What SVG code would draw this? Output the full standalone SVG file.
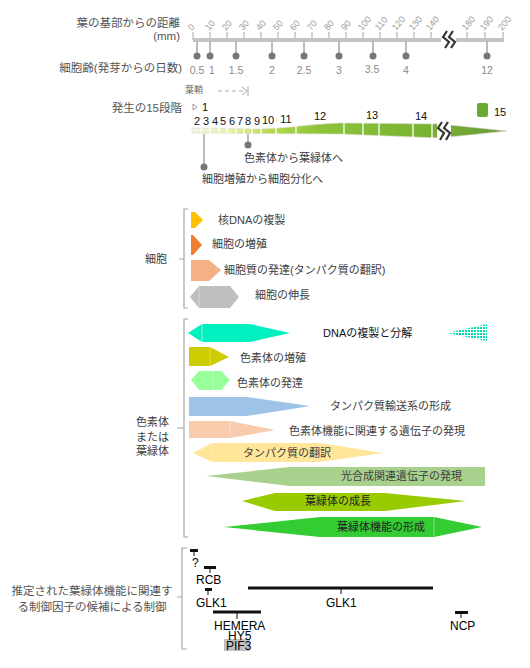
<svg xmlns="http://www.w3.org/2000/svg" width="530" height="668" viewBox="0 0 530 668">
<style>
text{font-family:"Liberation Sans","Noto Sans CJK JP",sans-serif}
.jp{font-size:11px;fill:#404040}
.jt{font-size:11.5px;fill:#555}
.tk{font-size:9px;fill:#9a9a9a}
.dl{font-size:10.5px;fill:#8a8a8a;text-anchor:middle}
.sn{font-size:11px;fill:#111}
.gn{font-size:12px;fill:#000}
.br{fill:none;stroke:#a6a6a6;stroke-width:1.2}
.tb{stroke:#111;stroke-width:3}
.st{stroke:#111;stroke-width:1}
.dd{fill:#777}
.dv{stroke:#bdbdbd;stroke-width:2}
.sep{stroke:#fff;stroke-width:1.3}
.zz{fill:none;stroke:#333;stroke-width:2.2}
</style>
<defs>
<linearGradient id="bar" gradientUnits="userSpaceOnUse" x1="192" y1="0" x2="507" y2="0">
<stop offset="0" stop-color="#f3f3e8"/>
<stop offset="0.12" stop-color="#eaf2a8"/>
<stop offset="0.25" stop-color="#b6da4c"/>
<stop offset="0.4" stop-color="#8ec43a"/>
<stop offset="0.75" stop-color="#79b232"/>
<stop offset="1" stop-color="#6a9a3c"/>
</linearGradient>
<pattern id="dots" patternUnits="userSpaceOnUse" width="3" height="3">
<rect x="0" y="0" width="2" height="2" fill="#00dcb0"/>
</pattern>
</defs>

<!-- titles -->
<g id="axis-title">
<text class="jt" x="180" y="27" text-anchor="end">葉の基部からの距離</text>
<text class="jt" x="180" y="40" text-anchor="end">(mm)</text>
<text class="jt" x="182" y="72" text-anchor="end">細胞齢(発芽からの日数)</text>
</g>

<!-- ruler -->
<g id="ruler">
<line x1="193" y1="40" x2="504" y2="40" stroke="#c4c4c4" stroke-width="4"/>
<g stroke="#c4c4c4" stroke-width="1.5">
<line x1="193" y1="32" x2="193" y2="40"/><line x1="210" y1="32" x2="210" y2="40"/><line x1="227" y1="32" x2="227" y2="40"/><line x1="244" y1="32" x2="244" y2="40"/><line x1="261" y1="32" x2="261" y2="40"/><line x1="278" y1="32" x2="278" y2="40"/><line x1="295" y1="32" x2="295" y2="40"/><line x1="312" y1="32" x2="312" y2="40"/><line x1="329" y1="32" x2="329" y2="40"/><line x1="346" y1="32" x2="346" y2="40"/><line x1="363" y1="32" x2="363" y2="40"/><line x1="380" y1="32" x2="380" y2="40"/><line x1="397" y1="32" x2="397" y2="40"/><line x1="414" y1="32" x2="414" y2="40"/><line x1="431" y1="32" x2="431" y2="40"/><line x1="467" y1="32" x2="467" y2="40"/><line x1="485" y1="32" x2="485" y2="40"/><line x1="503" y1="32" x2="503" y2="40"/>
</g>
<g class="tk">
<text transform="translate(192,31) rotate(-50)">0</text>
<text transform="translate(209,31) rotate(-50)">10</text>
<text transform="translate(226,31) rotate(-50)">20</text>
<text transform="translate(243,31) rotate(-50)">30</text>
<text transform="translate(260,31) rotate(-50)">40</text>
<text transform="translate(277,31) rotate(-50)">50</text>
<text transform="translate(294,31) rotate(-50)">60</text>
<text transform="translate(311,31) rotate(-50)">70</text>
<text transform="translate(328,31) rotate(-50)">80</text>
<text transform="translate(345,31) rotate(-50)">90</text>
<text transform="translate(362,31) rotate(-50)">100</text>
<text transform="translate(379,31) rotate(-50)">110</text>
<text transform="translate(396,31) rotate(-50)">120</text>
<text transform="translate(413,31) rotate(-50)">130</text>
<text transform="translate(430,31) rotate(-50)">140</text>
<text transform="translate(466,31) rotate(-50)">180</text>
<text transform="translate(484,31) rotate(-50)">190</text>
<text transform="translate(502,31) rotate(-50)">200</text>
</g>
<rect x="441" y="36" width="15" height="8" fill="#fff"/>
<path class="zz" d="M447,31 L443,37 L449,42 L445,48"/>
<path class="zz" d="M453,31 L449,37 L455,42 L451,48"/>
</g>

<!-- cell age -->
<g id="cell-age">
<g class="dv" stroke-width="1.5">
<line x1="197" y1="40" x2="197" y2="56"/><line x1="210" y1="40" x2="210" y2="56"/><line x1="236" y1="40" x2="236" y2="56"/><line x1="272" y1="40" x2="272" y2="56"/><line x1="304" y1="40" x2="304" y2="56"/><line x1="339" y1="40" x2="339" y2="56"/><line x1="373" y1="40" x2="373" y2="56"/><line x1="406" y1="40" x2="406" y2="56"/><line x1="487" y1="40" x2="487" y2="56"/>
</g>
<g class="dd">
<circle cx="197" cy="56" r="3.5"/><circle cx="210" cy="56" r="3.5"/><circle cx="236" cy="56" r="3.5"/><circle cx="272" cy="56" r="3.5"/><circle cx="304" cy="56" r="3.5"/><circle cx="339" cy="56" r="3.5"/><circle cx="373" cy="56" r="3.5"/><circle cx="406" cy="56" r="3.5"/><circle cx="487" cy="56" r="3.5"/>
</g>
<text class="dl" x="197" y="74">0.5</text><text class="dl" x="212" y="74">1</text><text class="dl" x="236" y="74">1.5</text><text class="dl" x="272" y="74">2</text><text class="dl" x="304" y="74">2.5</text><text class="dl" x="339" y="74">3</text><text class="dl" x="372" y="73">3.5</text><text class="dl" x="406" y="74">4</text><text class="dl" x="487" y="74">12</text>
</g>

<!-- stages -->
<g id="sheath">
<text x="185" y="93" style="font-size:9px;fill:#666">葉鞘</text>
<line x1="218" y1="91" x2="246" y2="91" stroke="#aaa" stroke-width="1" stroke-dasharray="4,3"/>
<path d="M242,87 L247,91 L242,95 M248,86 L248,96" fill="none" stroke="#aaa" stroke-width="1"/>
</g>
<g id="stages">
<text class="jt" x="182" y="112" text-anchor="end">発生の15段階</text>
<path d="M193,104 L197,107 L193,110 Z" fill="none" stroke="#888" stroke-width="0.8"/>
<text class="sn" x="202" y="111">1</text>
<g class="sn" text-anchor="middle">
<text x="197" y="125">2</text><text x="206" y="125">3</text><text x="215" y="125">4</text><text x="223" y="125">5</text><text x="232" y="125">6</text><text x="240" y="125">7</text><text x="248" y="125">8</text><text x="257" y="125">9</text><text x="268" y="124">10</text><text x="286" y="123">11</text><text x="320" y="120">12</text><text x="372" y="119">13</text><text x="421" y="120">14</text>
</g>
<path d="M192,128 L262,129 C290,128 312,124 340,123 L440,124 L507,131 L440,138 L340,134 L192,133 Z" fill="url(#bar)" stroke="#d6d6cc" stroke-width="0.6"/>
<g class="sep">
<line x1="201" y1="126" x2="201" y2="135"/><line x1="210" y1="126" x2="210" y2="135"/><line x1="219" y1="126" x2="219" y2="135"/><line x1="227" y1="126" x2="227" y2="135"/><line x1="236" y1="126" x2="236" y2="135"/><line x1="244" y1="126" x2="244" y2="135"/><line x1="252" y1="126" x2="252" y2="135"/><line x1="261" y1="126" x2="261" y2="135"/><line x1="276" y1="125" x2="276" y2="135"/><line x1="296" y1="124" x2="296" y2="135"/><line x1="344" y1="121" x2="344" y2="136"/><line x1="363" y1="121" x2="363" y2="136"/><line x1="379" y1="121" x2="379" y2="137"/><line x1="413" y1="122" x2="413" y2="138"/><line x1="432" y1="122" x2="432" y2="139"/>
</g>
<rect x="437" y="120" width="14" height="22" fill="#fff"/>
<path class="zz" d="M442,122 L438,128 L444,133 L440,140"/>
<path class="zz" d="M448,122 L444,128 L450,133 L446,140"/>
<rect x="477" y="103" width="11" height="14" rx="2" fill="#6aaa30"/>
<text class="sn" x="494" y="116">15</text>
</g>
<g id="stage-notes">
<text class="jp" x="244" y="162">色素体から葉緑体へ</text>
<text class="jp" x="202" y="183">細胞増殖から細胞分化へ</text>
</g>

<!-- cell section -->
<g id="cell-label"><text class="jp" x="145" y="263">細胞</text></g>
<g id="cell-dna">
<polygon points="191,212 195,212 203,220 195,228 191,228" fill="#ffc000"/>
<text class="jp" x="218" y="224">核DNAの複製</text>
</g>
<g id="cell-prolif">
<polygon points="191,235 193,235 202,245 193,255 191,255" fill="#ed7d31"/>
<text class="jp" x="212" y="248">細胞の増殖</text>
</g>
<g id="cell-cyto">
<polygon points="191,260 209,260 221,270 209,281 191,281" fill="#f4b183"/>
<text class="jp" x="224" y="274">細胞質の発達(タンパク質の翻訳)</text>
</g>
<g id="cell-elong">
<polygon points="190,297 199,286 230,286 239,297 230,308 199,308" fill="#bfbfbf"/>
<line x1="199" y1="286" x2="199" y2="308" stroke="#e0e0e0" stroke-width="0.8"/>
<text class="jp" x="255" y="299">細胞の伸長</text>
</g>

<!-- chloroplast section -->
<g id="plastid-label" class="jp">
<text x="136" y="426">色素体</text>
<text x="136" y="441">または</text>
<text x="136" y="455">葉緑体</text>
</g>
<g id="p-dna">
<polygon points="188,333 202,324 250,324 290,333 250,342 202,342" fill="#00f0c0"/>
<line x1="202" y1="324" x2="202" y2="342" stroke="#fff" stroke-width="0.8" opacity="0.7"/>
<text class="jp" x="323" y="337" style="fill:#111">DNAの複製と分解</text>
<polygon points="447,333 487,324 487,341" fill="url(#dots)"/>
</g>
<g id="p-prolif">
<polygon points="189,347 210,347 229,357 210,366 189,366" fill="#cccc00"/>
<line x1="210" y1="347" x2="210" y2="366" stroke="#fff" stroke-width="0.6" opacity="0.6"/>
<text class="jp" x="240" y="362">色素体の増殖</text>
</g>
<g id="p-dev">
<polygon points="191,380 199,371 221,371 230,380 221,390 199,390" fill="#99ff99"/>
<line x1="213" y1="371" x2="213" y2="390" stroke="#fff" stroke-width="0.6" opacity="0.7"/>
<text class="jp" x="237" y="387">色素体の発達</text>
</g>
<g id="p-transport">
<polygon points="189,397 247,397 310,406 247,416 189,416" fill="#9dc3e6"/>
<text class="jp" x="330" y="410">タンパク質輸送系の形成</text>
</g>
<g id="p-genes">
<polygon points="189,421 230,421 275,430 230,438 189,438" fill="#f8cbad"/>
<line x1="230" y1="421" x2="230" y2="438" stroke="#fff" stroke-width="0.6" opacity="0.7"/>
<text class="jp" x="289" y="435">色素体機能に関連する遺伝子の発現</text>
</g>
<g id="p-transl">
<polygon points="193,453 212,443 320,443 383,453 320,462 212,462" fill="#ffe699"/>
<line x1="212" y1="443" x2="212" y2="462" stroke="#fff" stroke-width="0.6" opacity="0.7"/>
<text class="jp" x="243" y="457">タンパク質の翻訳</text>
</g>
<g id="p-photo">
<polygon points="206,476 290,467 485,467 485,486 290,486" fill="#a9d18e"/>
<text class="jp" x="341" y="480">光合成関連遺伝子の発現</text>
</g>
<g id="p-growth">
<polygon points="242,501 275,493 385,493 466,501 385,511 275,511" fill="#99cc00"/>
<text class="jp" x="305" y="505" style="fill:#222">葉緑体の成長</text>
</g>
<g id="p-func">
<polygon points="224,527 320,517 434,517 482,527 434,537 320,537" fill="#33cc33"/>
<line x1="434" y1="517" x2="434" y2="537" stroke="#fff" stroke-width="0.6" opacity="0.7"/>
<text class="jp" x="337" y="531" style="fill:#222">葉緑体機能の形成</text>
</g>

<!-- regulators -->
<g id="reg-label" class="jt" text-anchor="middle">
<text x="92" y="595">推定された葉緑体機能に関連す</text>
<text x="92" y="611">る制御因子の候補による制御</text>
</g>
<g id="reg-q"><text class="gn" x="192" y="567">?</text></g>
<g id="reg-rcb"><text class="gn" x="196" y="584">RCB</text></g>
<g id="reg-glk1a"><text class="gn" x="196" y="607">GLK1</text></g>
<g id="reg-hemera">
<rect x="224" y="639" width="26" height="12" fill="#c0c0c0"/>
<text class="gn" x="214" y="630">HEMERA</text>
<text class="gn" x="228" y="640">HY5</text>
<text class="gn" x="226" y="650">PIF3</text>
</g>
<g id="reg-glk1b"><text class="gn" x="326" y="607">GLK1</text></g>
<g id="reg-ncp"><text class="gn" x="450" y="630">NCP</text></g>

<!-- connectors -->
<g id="connectors">
<line class="dv" x1="248" y1="134" x2="248" y2="145"/>
<circle class="dd" cx="248" cy="145" r="3.5"/>
<line class="dv" x1="204" y1="134" x2="204" y2="167"/>
<circle class="dd" cx="204" cy="167" r="3.5"/>
<path class="br" d="M188,209 L184,209 L184,308 L188,308 M184,259 L179,259"/>
<path class="br" d="M188,319 L184,319 L184,537 L188,537 M184,428 L177,428"/>
<path class="br" d="M187,548 L182,548 L182,649 L187,649 M182,597 L177,597"/>
<line class="tb" x1="190" y1="550.5" x2="198" y2="550.5"/><line class="st" x1="194" y1="550" x2="194" y2="556"/>
<line class="tb" x1="204" y1="567.5" x2="216" y2="567.5"/><line class="st" x1="210" y1="567" x2="210" y2="573"/>
<line class="tb" x1="205" y1="589.5" x2="212" y2="589.5"/><line class="st" x1="208" y1="589" x2="208" y2="595"/>
<line class="tb" x1="213" y1="612" x2="261" y2="612"/><line class="st" x1="237" y1="612" x2="237" y2="619"/>
<line class="tb" x1="248" y1="588" x2="433" y2="588"/><line class="st" x1="341" y1="588" x2="341" y2="594"/>
<line class="tb" x1="455" y1="612.5" x2="468" y2="612.5"/><line class="st" x1="461" y1="612" x2="461" y2="618"/>
</g>
</svg>
